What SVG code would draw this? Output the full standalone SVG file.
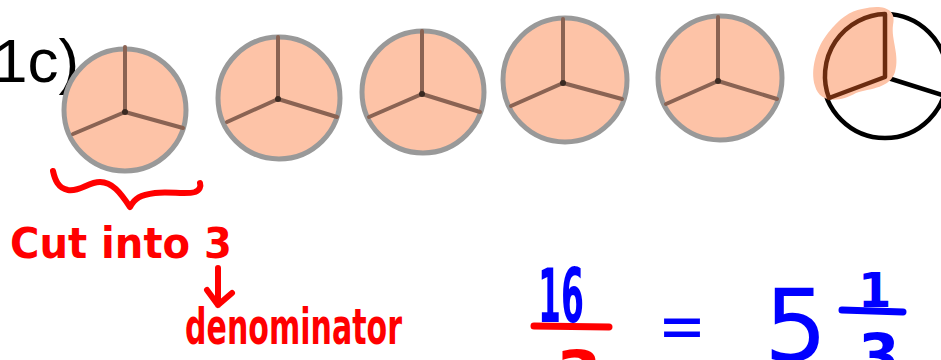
<svg xmlns="http://www.w3.org/2000/svg" width="941" height="360" viewBox="0 0 941 360">
<style>
.pie{fill:#fdc3a7;stroke:#999;stroke-width:5}
.sp{stroke:#8a6353;stroke-width:4;stroke-linecap:round;fill:none}
.dot{fill:#3a2a22}
.red{fill:#ff0000;font-family:"DejaVu Sans",sans-serif;font-weight:bold}
.blue{fill:#0000ff;font-family:"DejaVu Sans",sans-serif}
.rs{stroke:#ff0000;stroke-width:6;stroke-linecap:round;stroke-linejoin:round;fill:none}
.bs{stroke:#0000ff;stroke-width:7;stroke-linecap:round;fill:none}
</style>
<rect width="941" height="360" fill="#fff"/>
<text id="label-1c" x="-7" y="82" font-family="Liberation Sans, Arial, sans-serif" font-size="62" fill="#000">1c)</text>
<g id="pie1"><circle class="pie" cx="125" cy="110" r="61"/><path class="sp" d="M125,47 V112 L73,134 M125,112 L183,128"/><circle class="dot" cx="125" cy="112" r="3"/></g>
<g id="pie2"><circle class="pie" cx="279" cy="98" r="61"/><path class="sp" d="M278,37 V99 L227,122 M278,99 L337,117"/><circle class="dot" cx="278" cy="99" r="3"/></g>
<g id="pie3"><circle class="pie" cx="423" cy="92" r="61"/><path class="sp" d="M422,31 V94 L369,117 M422,94 L480,112"/><circle class="dot" cx="422" cy="94" r="3"/></g>
<g id="pie4"><circle class="pie" cx="565" cy="80" r="62"/><path class="sp" d="M563,19 V83 L511,106 M563,83 L622,99"/><circle class="dot" cx="563" cy="83" r="3"/></g>
<g id="pie5"><circle class="pie" cx="720" cy="78" r="62"/><path class="sp" d="M718,17 V81 L666,104 M718,81 L777,99"/><circle class="dot" cx="718" cy="81" r="3"/></g>
<g id="pie6">
<circle cx="885" cy="76" r="62" fill="none" stroke="#000" stroke-width="4.5"/>
<path d="M885,14 V77 L829,98 M885,77 L945,96" stroke="#000" stroke-width="4.5" fill="none" stroke-linecap="round"/>
<path d="M862,9 C882,4 897,8 893,25 C891,40 900,55 895,72 C890,88 872,88 856,93 C840,102 820,104 815,86 C810,70 816,48 828,33 C840,18 850,11 862,9 Z" fill="#fdc3a7"/>
<path d="M829,98 A62 62 0 0 1 885,14 V77 Z" fill="none" stroke="#6b2c10" stroke-width="4.5" stroke-linejoin="round"/>
</g>
<g id="connectors">
<path class="rs" d="M53,171 C55,180 58,188 68,190 C80,192 88,182 100,182 C112,182 120,192 130,207 C135,198 140,195 155,193 C170,191 185,195 195,192 C200,190 201,186 200,183"/>
<path class="rs" d="M218,268 V305 M207,290 L218,305 L232,293"/>
<line x1="534" y1="326" x2="609" y2="327" stroke="#ff0000" stroke-width="7" stroke-linecap="round"/>
<line x1="842" y1="310" x2="903" y2="312" class="bs"/>
</g>
<g id="annotations">
<text class="red" x="10" y="258" font-size="42" textLength="222" lengthAdjust="spacingAndGlyphs">Cut into 3</text>
<text class="red" x="185" y="344" font-size="50" textLength="217" lengthAdjust="spacingAndGlyphs">denominator</text>
</g>
<g id="math">
<text class="blue" x="538" y="322" font-size="74" font-weight="bold" textLength="46" lengthAdjust="spacingAndGlyphs">16</text>
<text class="red" x="556" y="398" font-size="66">3</text>
<text class="blue" x="658" y="348" font-size="66" textLength="48" lengthAdjust="spacingAndGlyphs">=</text>
<text class="blue" x="764" y="361" font-size="100">5</text>
<text class="blue" x="858" y="307" font-size="48" font-weight="bold">1</text>
<text class="blue" x="858" y="377" font-size="60" font-weight="bold">3</text>
</g>
</svg>
